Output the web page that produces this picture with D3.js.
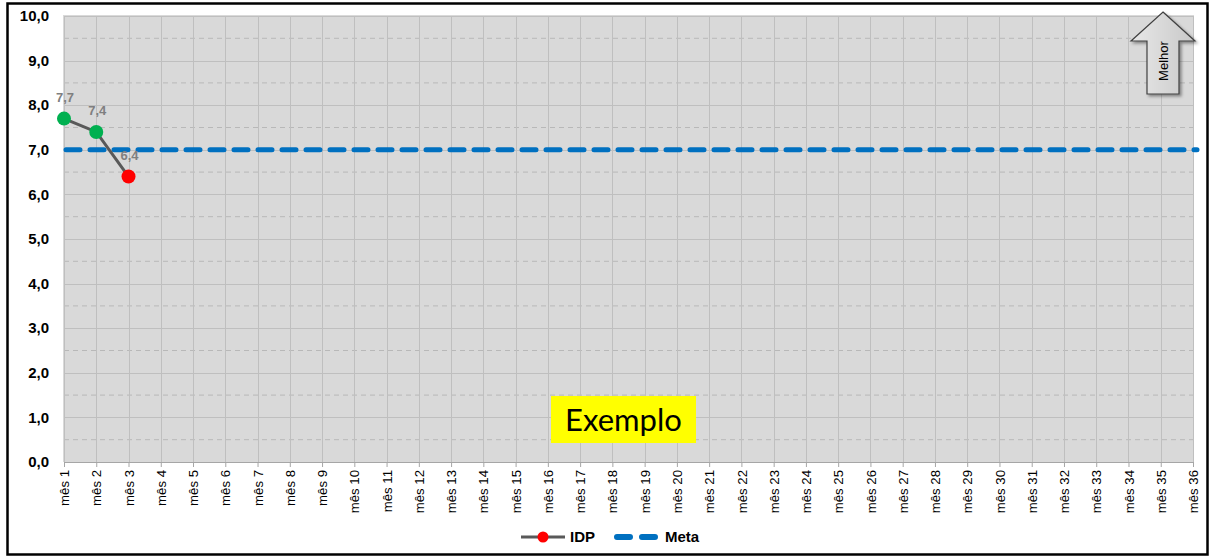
<!DOCTYPE html>
<html><head><meta charset="utf-8">
<script src="https://cdn.jsdelivr.net/npm/d3@7"></script>
<style>body{margin:0;background:#fff}svg{display:block}</style>
</head><body>
<svg id="c" width="1211" height="558"></svg>
<script>
const months = d3.range(1, 37).map(i => "mês " + i);
const idpValues = [7.7, 7.4, 6.4];
const idpLabels = ["7,7", "7,4", "6,4"];
const metaValue = 7.0;
const yTicks = [0,1,2,3,4,5,6,7,8,9,10];
const yMinor = [0.5,1.5,2.5,3.5,4.5,5.5,6.5,7.5,8.5,9.5];

(function(){
const svg = d3.select("#c");
const pL = 64, pR = 1193, pT = 16, pB = 462;
const x = d3.scalePoint().domain(months).range([pL, pR]);
const y = d3.scaleLinear().domain([0, 10]).range([pB, pT]);
const fmt = v => d3.format(".1f")(v).replace(".", ",");
const FONT = "Liberation Sans, Arial, sans-serif";

// outer frame
svg.append("rect").attr("x", 7.5).attr("y", 3.5).attr("width", 1200).attr("height", 551)
  .attr("fill", "#fff").attr("stroke", "#000").attr("stroke-width", 2.5);

// plot bg
svg.append("rect").attr("x", pL - 1).attr("y", pT - 1).attr("width", pR - pL + 2).attr("height", pB - pT + 1)
  .attr("fill", "#d9d9d9");

// minor dashed gridlines
svg.append("g").selectAll("line").data(yMinor).join("line")
  .attr("x1", pL).attr("x2", pR).attr("y1", d => y(d)).attr("y2", d => y(d))
  .attr("stroke", "#b8b8b8").attr("stroke-width", 1).attr("stroke-dasharray", "5,4");
// major gridlines
svg.append("g").selectAll("line").data(yTicks.slice(1)).join("line")
  .attr("x1", pL).attr("x2", pR).attr("y1", d => Math.round(y(d)) + 0.5).attr("y2", d => Math.round(y(d)) + 0.5)
  .attr("stroke", "#bfbfbf").attr("stroke-width", 1);
// vertical gridlines
svg.append("g").selectAll("line").data(months).join("line")
  .attr("x1", d => Math.round(x(d)) + 0.5).attr("x2", d => Math.round(x(d)) + 0.5).attr("y1", pT).attr("y2", pB)
  .attr("stroke", "#bfbfbf").attr("stroke-width", 1);

// x axis
const xa = svg.append("g").attr("transform", `translate(0,${pB})`)
  .call(d3.axisBottom(x).tickSize(5).tickSizeOuter(0));
xa.select(".domain").attr("stroke", "#a6a6a6");
xa.selectAll(".tick line").attr("stroke", "#a6a6a6");
xa.selectAll(".tick text")
  .attr("font-family", FONT).attr("font-size", 13.2).attr("fill", "#000")
  .attr("transform", "rotate(-90)").attr("text-anchor", "end")
  .attr("x", -8).attr("y", 0).attr("dy", "0.35em");

// y axis labels
svg.append("g").selectAll("text").data(yTicks).join("text")
  .attr("x", 49).attr("y", d => y(d)).attr("dy", "0.35em").attr("text-anchor", "end")
  .attr("font-family", FONT).attr("font-size", 15).attr("font-weight", "bold")
  .attr("fill", "#000").text(d => fmt(d));

// meta line
svg.append("line").attr("x1", pL + 2).attr("x2", pR + 4).attr("y1", y(metaValue)).attr("y2", y(metaValue))
  .attr("stroke", "#0070c0").attr("stroke-width", 5).attr("stroke-dasharray", "14,10").attr("stroke-linecap", "round");

// Exemplo box
svg.append("rect").attr("x", 551).attr("y", 396).attr("width", 145).attr("height", 47).attr("fill", "#ffff00");
svg.append("text").attr("x", 623.5).attr("y", 420).attr("dy", "0.35em").attr("text-anchor", "middle")
  .attr("font-family", "Lato, Open Sans, sans-serif").attr("font-size", 31).attr("font-weight", 400).attr("fill", "#000").text("Exemplo");

// IDP line
const idpData = idpValues.map((v, i) => ({m: months[i], v, l: idpLabels[i]}));
svg.append("path").datum(idpData)
  .attr("d", d3.line().x(d => x(d.m)).y(d => y(d.v)))
  .attr("fill", "none").attr("stroke", "#595959").attr("stroke-width", 3);
svg.append("g").selectAll("circle").data(idpData).join("circle")
  .attr("cx", d => x(d.m)).attr("cy", d => y(d.v)).attr("r", 7)
  .attr("fill", d => d.v >= metaValue ? "#00b050" : "#ff0000");
svg.append("g").selectAll("text").data(idpData).join("text")
  .attr("x", d => x(d.m) + 1).attr("y", d => y(d.v) - 17).attr("text-anchor", "middle")
  .attr("font-family", FONT).attr("font-size", 13).attr("font-weight", "bold")
  .attr("fill", "#7f7f7f").text(d => d.l);

// Melhor arrow
const defs = svg.append("defs");
const grad = defs.append("linearGradient").attr("id", "ag").attr("x1", 0).attr("x2", 1).attr("y1", 0).attr("y2", 0);
grad.append("stop").attr("offset", 0).attr("stop-color", "#e8e8e8");
grad.append("stop").attr("offset", 1).attr("stop-color", "#c8c8c8");
const f = defs.append("filter").attr("id", "sh").attr("x", "-20%").attr("y", "-20%").attr("width", "150%").attr("height", "150%");
f.append("feDropShadow").attr("dx", 2).attr("dy", 2).attr("stdDeviation", 1.5).attr("flood-color", "#000").attr("flood-opacity", 0.4);
const arrowPts = [[1163,12],[1195,41],[1179,41],[1179,94],[1147,94],[1147,41],[1131,41]];
svg.append("path").attr("d", "M" + arrowPts.map(p => p.join(",")).join("L") + "Z")
  .attr("fill", "url(#ag)").attr("stroke", "#404040").attr("stroke-width", 1.2).attr("filter", "url(#sh)");
svg.append("text").attr("transform", "translate(1163,61) rotate(-90)").attr("text-anchor", "middle").attr("dy", "0.35em")
  .attr("font-family", FONT).attr("font-size", 13).attr("fill", "#000").text("Melhor");

// legend
const lg = svg.append("g");
lg.append("line").attr("x1", 521).attr("x2", 565).attr("y1", 537).attr("y2", 537)
  .attr("stroke", "#595959").attr("stroke-width", 3);
lg.append("circle").attr("cx", 543).attr("cy", 537).attr("r", 5.5).attr("fill", "#ff0000");
lg.append("text").attr("x", 570).attr("y", 537).attr("dy", "0.35em")
  .attr("font-family", FONT).attr("font-size", 15).attr("font-weight", "bold").text("IDP");
lg.append("line").attr("x1", 617).attr("x2", 655).attr("y1", 537).attr("y2", 537)
  .attr("stroke", "#0070c0").attr("stroke-width", 6).attr("stroke-dasharray", "13,12").attr("stroke-linecap", "round");
lg.append("text").attr("x", 665).attr("y", 537).attr("dy", "0.35em")
  .attr("font-family", FONT).attr("font-size", 15).attr("font-weight", "bold").text("Meta");
})();
</script>
</body></html>
